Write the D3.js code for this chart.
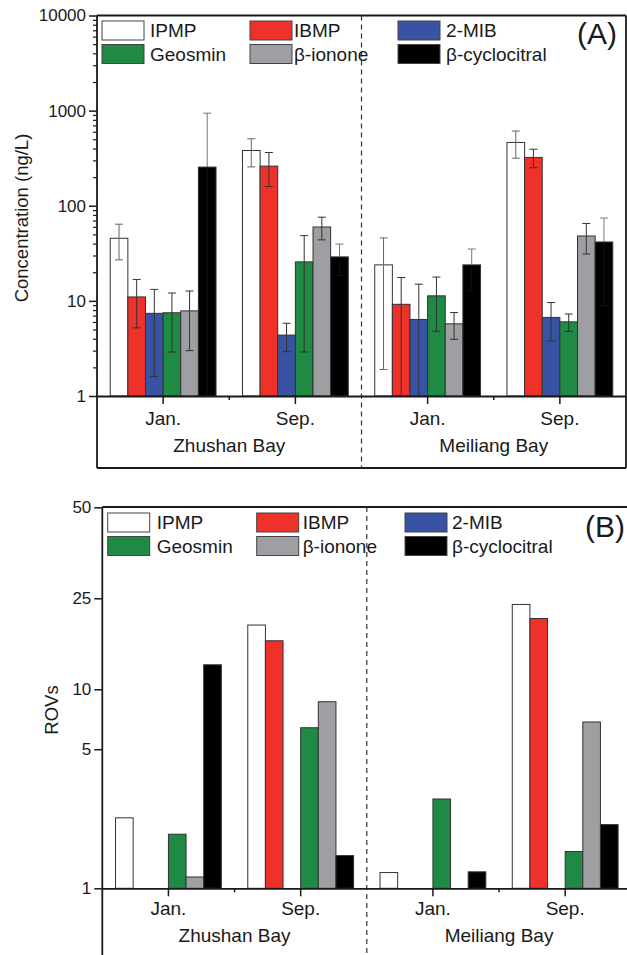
<!DOCTYPE html>
<html>
<head>
<meta charset="utf-8">
<script src="https://cdn.jsdelivr.net/npm/d3@7"></script>
<style>
  body { margin: 0; background: #fff; }
  svg { font-family: "Liberation Sans", Arial, sans-serif; }
</style>
</head>
<body>
<script>
// ---- data ----
const groups = ["ZB-Jan", "ZB-Sep", "ML-Jan", "ML-Sep"];
const months = ["Jan.", "Sep.", "Jan.", "Sep."];
const sites = ["Zhushan Bay", "Meiliang Bay"];
const compounds = ["IPMP", "IBMP", "2-MIB", "Geosmin", "β-ionone", "β-cyclocitral"];
const colors = ["#ffffff", "#ee3129", "#3953a4", "#1f8a43", "#9d9fa2", "#000000"];

// (A) concentration, ng/L (mean and SD per group)
const ipmpConc = [45.5, 381, 23.9, 463];
const ibmpConc = [11.0, 261, 9.2, 322];
const mibConc = [7.4, 4.37, 6.38, 6.7];
const geoConc = [7.5, 25.7, 11.3, 6.02];
const iononeConc = [7.85, 59.8, 5.74, 48.1];
const cycloConc = [255, 29, 23.9, 41.6];

const ipmpSd = [18.5, 125, 22, 147];
const ibmpSd = [5.8, 102, 8.4, 71];
const mibSd = [5.8, 1.45, 8.6, 2.9];
const geoSd = [4.6, 22.8, 6.5, 1.25];
const iononeSd = [4.85, 16, 1.8, 17];
const cycloSd = [685, 10.5, 11.2, 32.7];

// (B) ROVs (null = not shown)
const ipmpRov = [2.26, 19.1, 1.20, 23.5];
const ibmpRov = [null, 16.3, null, 20.4];
const mibRov = [null, null, null, null];
const geoRov = [1.87, 6.41, 2.81, 1.53];
const iononeRov = [1.14, 8.66, null, 6.85];
const cycloRov = [12.8, 1.46, 1.21, 2.09];

const ticksA = [1, 10, 100, 1000, 10000];
const ticksB = [1, 5, 10, 25, 50];

const concSeries = [ipmpConc, ibmpConc, mibConc, geoConc, iononeConc, cycloConc];
const sdSeries = [ipmpSd, ibmpSd, mibSd, geoSd, iononeSd, cycloSd];
const rovSeries = [ipmpRov, ibmpRov, mibRov, geoRov, iononeRov, cycloRov];

const W = 627, H = 955;
const svg = d3.select("body").append("svg").attr("width", W).attr("height", H);
const INK = "#1a1a1a";

function drawPanel(p) {
  const g = svg.append("g");
  const x = d3.scaleBand().domain(groups).range([p.left, p.left + 529]).paddingInner(0.2).paddingOuter(0.1);
  const xi = d3.scaleBand().domain(compounds).range([0, x.bandwidth()]);
  const step = x.step();
  const y = p.y;

  // bars
  compounds.forEach((c, ci) => {
    p.values[ci].forEach((v, gi) => {
      if (v == null) return;
      g.append("rect")
        .attr("x", x(groups[gi]) + xi(c))
        .attr("y", y(v))
        .attr("width", xi.bandwidth())
        .attr("height", y.range()[0] - y(v))
        .attr("fill", colors[ci])
        .attr("stroke", "#333").attr("stroke-width", 1);
    });
  });

  // error bars
  if (p.sd) {
    compounds.forEach((c, ci) => {
      p.values[ci].forEach((v, gi) => {
        const s = p.sd[ci][gi];
        const cx = x(groups[gi]) + xi(c) + xi.bandwidth() / 2;
        const top = y(v);
        const hi = y(v + s);
        const lo = v - s > y.domain()[0] ? y(v - s) : y.range()[0];
        const col = ci === 0 ? "#666" : (ci === 5 ? "#777" : "#333");
        const colIn = ci === 5 ? "#111" : col;
        g.append("line").attr("x1", cx).attr("x2", cx).attr("y1", hi).attr("y2", top)
          .attr("stroke", col).attr("stroke-width", 1);
        g.append("line").attr("x1", cx).attr("x2", cx).attr("y1", top).attr("y2", lo)
          .attr("stroke", colIn).attr("stroke-width", 1);
        g.append("line").attr("x1", cx - 4).attr("x2", cx + 4).attr("y1", hi).attr("y2", hi)
          .attr("stroke", col).attr("stroke-width", 1);
        if (v - s > y.domain()[0]) {
          g.append("line").attr("x1", cx - 4).attr("x2", cx + 4).attr("y1", lo).attr("y2", lo)
            .attr("stroke", colIn).attr("stroke-width", 1);
        }
      });
    });
  }

  const base = y.range()[0];
  const right = p.left + 4 * step;

  // frame
  g.append("line").attr("x1", p.left).attr("x2", Math.min(right, W + 2)).attr("y1", p.top).attr("y2", p.top)
    .attr("stroke", INK).attr("stroke-width", 1.8);
  g.append("line").attr("x1", p.left).attr("x2", p.left).attr("y1", p.top).attr("y2", p.bottom)
    .attr("stroke", INK).attr("stroke-width", 1.8);
  g.append("line").attr("x1", right).attr("x2", right).attr("y1", p.top).attr("y2", p.bottom)
    .attr("stroke", INK).attr("stroke-width", 1.8);
  if (p.closeBottom) {
    g.append("line").attr("x1", p.left).attr("x2", right).attr("y1", p.bottom).attr("y2", p.bottom)
      .attr("stroke", INK).attr("stroke-width", 1.8);
  }
  // dashed separator
  g.append("line").attr("x1", p.left + 2 * step).attr("x2", p.left + 2 * step)
    .attr("y1", p.top).attr("y2", p.bottom)
    .attr("stroke", "#333").attr("stroke-width", 1.2).attr("stroke-dasharray", "5,4");

  // x axis
  const xAxis = g.append("g").attr("transform", `translate(0,${base})`)
    .call(d3.axisBottom(x).tickSize(8).tickFormat("").tickSizeOuter(0));
  xAxis.select(".domain").attr("stroke", INK).attr("stroke-width", 1.8);
  xAxis.selectAll(".tick line").attr("stroke", INK).attr("stroke-width", 1.5);
  [1, 3].forEach(k => {
    g.append("line").attr("x1", p.left + k * step).attr("x2", p.left + k * step)
      .attr("y1", base).attr("y2", base + 4).attr("stroke", INK).attr("stroke-width", 1.5);
  });

  // month & site labels
  groups.forEach((gr, i) => {
    g.append("text").attr("x", x(gr) + x.bandwidth() / 2).attr("y", base + p.monthDy)
      .attr("text-anchor", "middle").attr("font-size", 19).attr("fill", INK).text(months[i]);
  });
  sites.forEach((s, i) => {
    g.append("text").attr("x", p.left + (2 * i + 1) * step).attr("y", base + p.siteDy)
      .attr("text-anchor", "middle").attr("font-size", 19).attr("fill", INK).text(s);
  });

  // y axis
  const yAxis = g.append("g").attr("transform", `translate(${p.left},0)`)
    .call(d3.axisLeft(y).tickValues(p.ticks).tickSize(8).tickPadding(3).tickSizeOuter(0)
      .tickFormat(d3.format("d")));
  yAxis.select(".domain").remove();
  yAxis.selectAll(".tick line").attr("stroke", INK).attr("stroke-width", 1.5);
  yAxis.selectAll(".tick text").attr("font-size", 17).attr("fill", INK)
    .attr("font-family", "Liberation Sans, Arial, sans-serif");
  if (p.minor) {
    const minor = [];
    for (let d = 1; d < 10000; d *= 10) for (let k = 2; k <= 9; k++) minor.push(d * k);
    const m = g.append("g").attr("transform", `translate(${p.left},0)`)
      .call(d3.axisLeft(y).tickValues(minor).tickSize(4).tickFormat(""));
    m.select(".domain").remove();
    m.selectAll(".tick line").attr("stroke", INK).attr("stroke-width", 1.2);
  }

  // y title
  g.append("text")
    .attr("transform", `translate(${p.titleX},${p.titleY}) rotate(-90)`)
    .attr("text-anchor", "middle").attr("font-size", 18.5).attr("fill", INK).text(p.title);

  // legend
  compounds.forEach((c, i) => {
    const col = i % 3, row = Math.floor(i / 3);
    const lx = p.legX[col], ly = p.legY + row * 23.5;
    g.append("rect").attr("x", lx).attr("y", ly).attr("width", 42).attr("height", 19)
      .attr("fill", colors[i]).attr("stroke", "#444").attr("stroke-width", 1);
    g.append("text").attr("x", lx + p.legTextDx[col]).attr("y", ly + 16)
      .attr("font-size", 19).attr("fill", INK).text(c);
  });

  g.append("text").attr("x", p.tagX).attr("y", p.tagY).attr("font-size", 30)
    .attr("fill", INK).text(p.tag);
}

// panel A
drawPanel({
  left: 97, top: 15.5, bottom: 468, closeBottom: true,
  y: d3.scaleLog().domain([1, 10000]).range([396, 15.5]),
  values: concSeries, sd: sdSeries, ticks: ticksA, minor: true,
  monthDy: 29, siteDy: 56,
  title: "Concentration (ng/L)", titleX: 28, titleY: 218,
  legX: [102, 250, 398], legTextDx: [48, 44, 48], legY: 21,
  tag: "(A)", tagX: 577, tagY: 44
});

// panel B (axis spacing as drawn in the figure)
const bBase = 888.3;
drawPanel({
  left: 102.3, top: 507, bottom: 960, closeBottom: false,
  y: d3.scaleLog().domain([1, 10, 25, 50]).range([bBase, bBase - 199, bBase - 290, bBase - 381]),
  values: rovSeries, sd: null, ticks: ticksB, minor: false,
  monthDy: 27, siteDy: 54,
  title: "ROVs", titleX: 58, titleY: 710,
  legX: [107.7, 256.7, 405], legTextDx: [49, 46, 47], legY: 513,
  tag: "(B)", tagX: 585, tagY: 537
});
</script>
</body>
</html>
